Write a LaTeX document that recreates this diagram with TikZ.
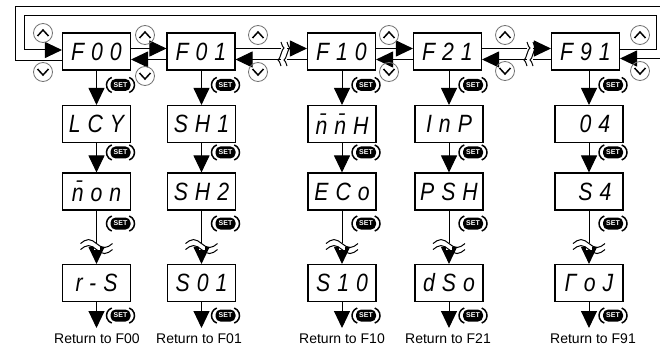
\documentclass[tikz,border=0pt]{standalone}
\usepackage{fontspec}
\setmainfont{Liberation Sans}
\newfontfamily\segfont[LetterSpace=28,FakeStretch=0.85]{Liberation Sans}
\usetikzlibrary{arrows.meta}

\tikzset{
  disp/.style={draw, line width=1.1pt, minimum width=68pt, minimum height=37pt,
    inner sep=0pt, font=\segfont\itshape\fontsize{25}{25}\selectfont},
  flow/.style={line width=1pt, -{Triangle[length=17pt,width=16pt]}},
  retlabel/.style={anchor=north, inner xsep=0pt, inner ysep=6pt,
    font=\fontsize{14}{14}\selectfont},
  upkey/.pic={
    \draw[black!55, line width=0.8pt] (0,0) circle[radius=9.5pt];
    \draw[line width=1.5pt, line join=miter] (-5.5,3) -- (0,-3) -- (5.5,3);
  },
  downkey/.pic={
    \draw[black!55, line width=0.8pt] (0,0) circle[radius=9.5pt];
    \draw[line width=1.5pt, line join=miter] (-5.5,-3) -- (0,3) -- (5.5,-3);
  },
  setkey/.pic={
    \fill[rounded corners=5pt] (-10,-6) rectangle (10,6);
    \node[text=white, inner sep=0pt, font=\bfseries\fontsize{7}{7}\selectfont] {SET};
    \draw[line width=1.5pt] (-6,0) ++(110:8pt) arc[start angle=110, end angle=250, radius=8pt];
    \draw[line width=1.5pt] (6,0) ++(-70:8pt) arc[start angle=-70, end angle=70, radius=8pt];
  },
  vbreak/.pic={
    \fill[white] (-3,-1) rectangle (3,6);
    \draw[line width=1pt] (-16,0) sin (-8,-4) cos (0,0) sin (8,4) cos (16,0);
    \draw[line width=1pt] (-16,6) sin (-8,2) cos (0,6) sin (8,10) cos (16,6);
  },
  hbreak/.pic={
    \fill[white] (-3,-11) rectangle (3,11);
    \draw[line width=1pt] (-3,-12) sin (0,-6) cos (-3,0) sin (-6,6) cos (-3,12);
    \draw[line width=1pt] (3,-12) sin (6,-6) cos (3,0) sin (0,6) cos (3,12);
  }
}

\begin{document}
\begin{tikzpicture}[x=1pt,y=-1pt]
\useasboundingbox (0,0) rectangle (660,353);
\clip (0,0) rectangle (660,353);

% function codes
\node[disp] (f00) at (96.5,51.5) {F00};
\node[disp] (f01) at (201,51.5) {F01};
\node[disp] (f10) at (341.5,51.5) {F10};
\node[disp] (f21) at (447.5,51.5) {F21};
\node[disp] (f91) at (585.5,51.5) {F91};

% parameter columns
\node[disp] (lcy) at (96.5,124) {LCY};
\node[disp] (mon) at (96.5,191.5) {\=non};
\node[disp] (rs)  at (96.5,283) {r-S};

\node[disp] (sh1) at (201.5,124) {SH1};
\node[disp] (sh2) at (201.5,191.5) {SH2};
\node[disp] (s01) at (201.5,283) {S01};

\node[disp] (mmh) at (342,124) {\=n\=nH};
\node[disp] (eco) at (342,191.5) {ECo};
\node[disp] (s10) at (342,283) {S10};

\node[disp] (inp) at (449,124) {InP};
\node[disp] (psh) at (449,191.5) {PSH};
\node[disp] (dso) at (449,283) {dSo};

\node[disp] (o4)  at (589,124) {\phantom{0}04};
\node[disp] (s4)  at (589,191.5) {\phantom{0}S4};
\node[disp] (roj) at (589,283) {ΓoJ};

\node[retlabel] (ret1) at (97,328) {Return to F00};
\node[retlabel] (ret2) at (199,328) {Return to F01};
\node[retlabel] (ret3) at (342,328) {Return to F10};
\node[retlabel] (ret4) at (448,328) {Return to F21};
\node[retlabel] (ret5) at (593,328) {Return to F91};

% up / down links along the top row
\foreach \a/\b in {f00/f01,f01/f10,f10/f21,f21/f91} {
  \draw[flow] ([yshift=3pt]\a.east) -- ([yshift=3pt]\b.west);
  \draw[flow] ([yshift=-8pt]\b.west) -- ([yshift=-8pt]\a.east);
}

% wrap-around loops
\coordinate (innerL) at (24,16);
\coordinate (outerL) at (15,7);
\coordinate (outerR) at (666,7);
\draw[flow] ([yshift=1.5pt]f91.east) -- ++(36,0) |- (innerL) |- ([yshift=1.5pt]f00.west);
\draw[flow] ([yshift=-9pt]f00.west) -| (outerL) -- (outerR) |- ([yshift=-7pt]f91.east);

\pic at (284,54) {hbreak};
\pic at (530,54) {hbreak};

% key symbols
\foreach \x/\yu/\yd in {43/33/72,145/35/76,258/35/72,389/35/72,505/35/71,640/35/71} {
  \pic at (\x,\yu) {upkey};
  \pic at (\x,\yd) {downkey};
}

% SET sequences down each column
\foreach \t/\p/\q/\r/\e in {f00/lcy/mon/rs/ret1, f01/sh1/sh2/s01/ret2,
    f10/mmh/eco/s10/ret3, f21/inp/psh/dso/ret4, f91/o4/s4/roj/ret5} {
  \draw[flow] (\p.north |- \t.south) -- (\p.north);
  \draw[flow] (\p.south) -- (\q.north);
  \draw[flow] (\q.south) -- (\r.north);
  \draw[flow] (\r.south) -- (\r.south |- \e.north);
  \pic at ([yshift=-33pt]\q.south) {vbreak};
  \pic at ([xshift=24pt,yshift=20pt]\p.north) {setkey};
  \pic at ([xshift=24pt,yshift=20pt]\q.north) {setkey};
  \pic at ([xshift=24pt,yshift=-13pt]\q.south) {setkey};
  \pic at ([xshift=24pt,yshift=-13.5pt]\r.south) {setkey};
}
\end{tikzpicture}
\end{document}
